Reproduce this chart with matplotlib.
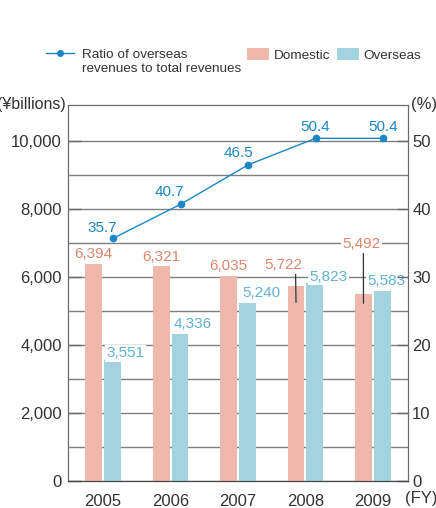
import numpy as np
import matplotlib.pyplot as plt
from matplotlib.patches import Patch
from matplotlib.lines import Line2D
from matplotlib.transforms import offset_copy

plt.rcParams['font.family'] = ['Liberation Sans', 'DejaVu Sans']

# -------- DATA ----------
years = ["2005", "2006", "2007", "2008", "2009"]
domestic = [6394, 6321, 6035, 5722, 5492]
overseas = [3551, 4336, 5240, 5823, 5583]
ratio = [35.7, 40.7, 46.5, 50.4, 50.4]

# -------- STYLE ----------
dom_c = "#efb8ad"
ovs_c = "#a3d3df"
dom_txt = "#e0866b"
ovs_txt = "#5fb3d6"
line_c = "#1a87c4"
grid_c = "#7f7f7f"
spine_c = "#6a6a6a"
txt_c = "#333333"

# label offsets in pixels (dx, dy) from bar top / point
dom_off = [(0, 10), (0, 9), (0, 10), (-13, 21), (-2, 50)]
dom_leader = [None, None, None, (0.83, 16), (0.55, 9)]
ovs_off = [(13, 7), (13, 10), (14, 10), (14, 6), (4, 10)]
ratio_off = [(-11, 10), (-11, 12), (-10, 12), (0, 11), (0, 11)]

fig = plt.figure(figsize=(4.36, 5.08), dpi=100)
ax = fig.add_axes([68 / 436, 27 / 508, 340 / 436, 376 / 508])
ax2 = ax.twinx()

x = np.arange(len(years))
bw = 0.25
ax.bar(x - 0.14, domestic, bw, color=dom_c, zorder=2)
ax.bar(x + 0.14, overseas, bw, color=ovs_c, zorder=2)

ax.set_xlim(-0.52, 4.52)
ax.set_ylim(0, 11060)
ax2.set_ylim(0, 55.3)

ax.set_yticks(range(0, 10001, 2000))
ax.set_yticklabels([f"{v:,}" for v in range(0, 10001, 2000)])
ax.set_yticks(range(1000, 10000, 2000), minor=True)
ax.set_axisbelow(True)
ax.grid(axis='y', which='both', color=grid_c, lw=1)
ax.set_xticks(x)
ax.set_xticklabels(years)

ax.tick_params(axis='y', which='major', direction='in', length=9, width=1,
               color=spine_c, labelsize=12, labelcolor=txt_c, pad=4.5)
ax.tick_params(axis='y', which='minor', length=0)
ax.tick_params(axis='x', length=0, labelsize=12, labelcolor=txt_c, pad=9)
ax2.set_yticks(range(0, 51, 10))
ax2.tick_params(axis='y', direction='in', length=8, width=1, color=spine_c,
                labelsize=12, labelcolor=txt_c, pad=3)

for a in (ax, ax2):
    for s in ('left', 'right', 'top'):
        a.spines[s].set_color(spine_c)
    a.spines['bottom'].set_color("#444444")

# ratio line
ax2.plot(x + 0.15, ratio, color=line_c, lw=1, marker='o', ms=4.5, zorder=3)

box = dict(fc='white', ec='none', pad=1)

for i, v in enumerate(domestic):
    dx, dy = dom_off[i]
    lead = dom_leader[i]
    if lead is None:
        ax.annotate(f"{v:,}", (x[i] - 0.14, v), xytext=(dx, dy), textcoords='offset pixels',
                    ha='center', va='center', fontsize=11, color=dom_txt, bbox=box, zorder=4)
    else:
        rel, depth = lead
        tr = offset_copy(ax.transData, fig=fig, x=0, y=-depth, units='dots')
        ax.annotate(f"{v:,}", (x[i] - 0.14, v), xycoords=tr, xytext=(dx, dy + depth),
                    textcoords='offset pixels', ha='center', va='center', fontsize=11,
                    color=dom_txt, bbox=box, zorder=4,
                    arrowprops=dict(arrowstyle='-', color="#333333", lw=0.9,
                                    shrinkA=0, shrinkB=0, relpos=(rel, 0)))

for i, v in enumerate(overseas):
    dx, dy = ovs_off[i]
    ax.annotate(f"{v:,}", (x[i] + 0.14, v), xytext=(dx, dy), textcoords='offset pixels',
                ha='center', va='center', fontsize=11, color=ovs_txt, bbox=box, zorder=4)

for i, v in enumerate(ratio):
    dx, dy = ratio_off[i]
    ax2.annotate(f"{v}", (x[i] + 0.15, v), xytext=(dx, dy), textcoords='offset pixels',
                 ha='center', va='center', fontsize=11, color=line_c)

# axis unit labels
fig.text(66 / 436, 1 - 104 / 508, "(¥billions)", ha='right', va='center', fontsize=11.5, color=txt_c)
fig.text(411 / 436, 1 - 104 / 508, "(%)", ha='left', va='center', fontsize=12, color=txt_c)
fig.text(405 / 436, 1 - 498 / 508, "(FY)", ha='left', va='center', fontsize=12, color=txt_c)

# -------- LEGEND (three single-entry legends) ----------
leg_kw = dict(frameon=False, fontsize=9.7, borderaxespad=0, borderpad=0,
              labelspacing=0, labelcolor=txt_c, loc='center left')
leg1 = fig.legend([Line2D([], [], color=line_c, marker='o', ms=4, lw=1)],
                  ["Ratio of overseas"],
                  bbox_to_anchor=(46 / 436, 1 - 55 / 508), handlelength=2.05,
                  handletextpad=0.6, **leg_kw)
fig.legend([Patch(fc=dom_c)], ["Domestic"],
           bbox_to_anchor=(247 / 436, 1 - 55 / 508), handlelength=1.6,
           handleheight=1.0, handletextpad=0.38, **leg_kw)
fig.legend([Patch(fc=ovs_c)], ["Overseas"],
           bbox_to_anchor=(337 / 436, 1 - 55 / 508), handlelength=1.6,
           handleheight=1.0, handletextpad=0.38, **leg_kw)

# second line of the ratio label, lined up under the first
fig.canvas.draw()
x0 = leg1.get_texts()[0].get_window_extent().x0
fig.text(x0 / fig.bbox.width, 1 - 69 / 508, "revenues to total revenues",
         ha='left', va='center', fontsize=9.7, color=txt_c)

fig.savefig("out.png", dpi=100)
